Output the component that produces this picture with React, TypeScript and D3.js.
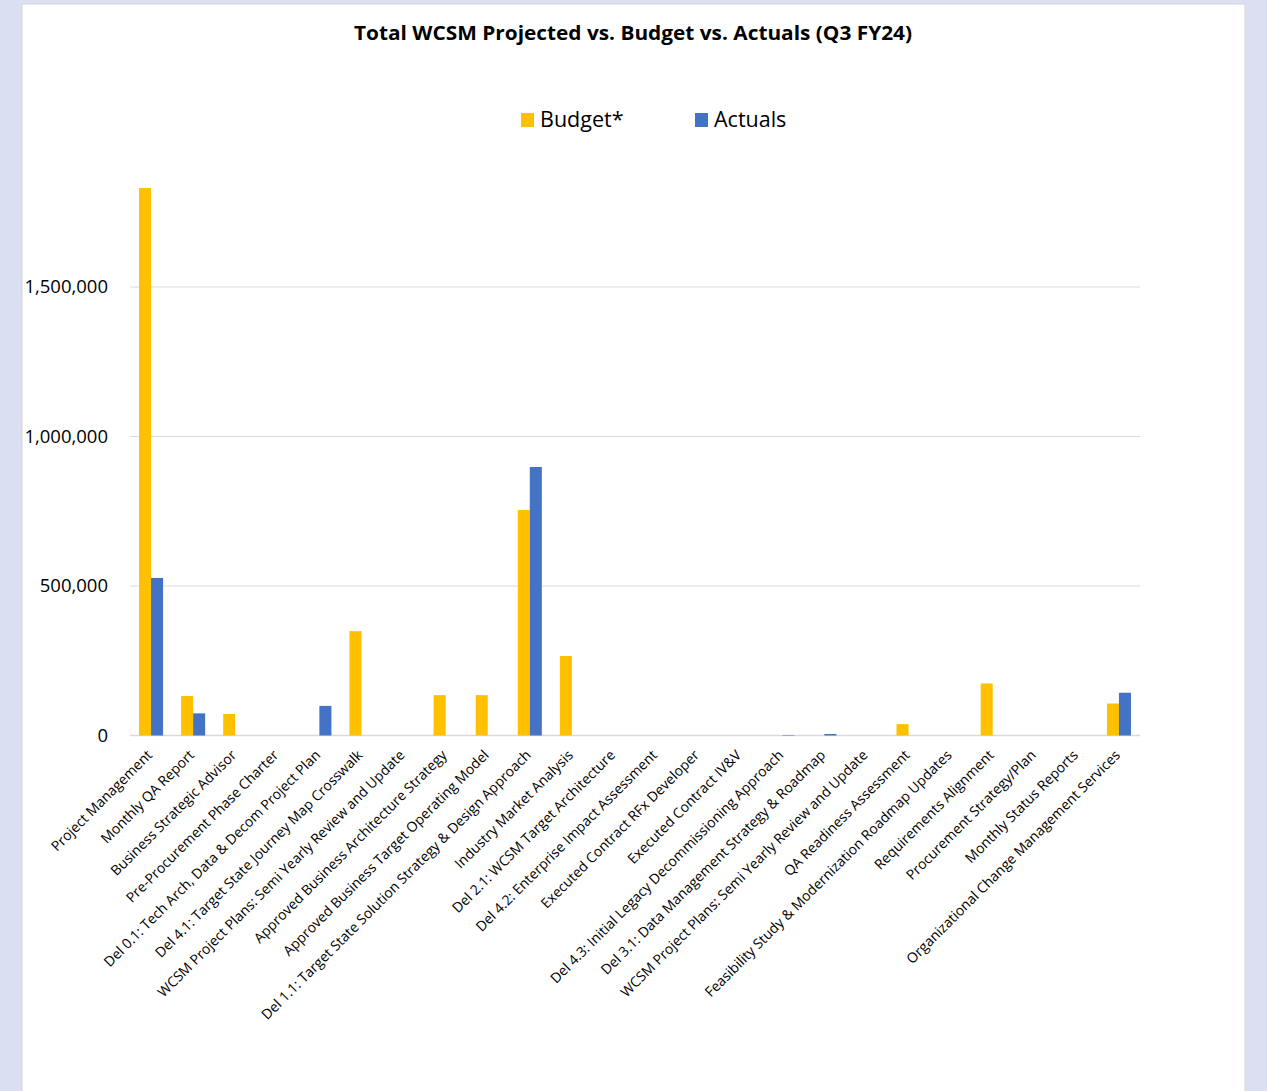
import React from "react";
import * as d3 from "d3";

const categories: string[] = [
  "Project Management",
  "Monthly QA Report",
  "Business Strategic Advisor",
  "Pre-Procurement Phase Charter",
  "Del 0.1: Tech Arch, Data & Decom Project Plan",
  "Del 4.1: Target State Journey Map Crosswalk",
  "WCSM Project Plans: Semi Yearly Review and Update",
  "Approved Business Architecture Strategy",
  "Approved Business Target Operating Model",
  "Del 1.1: Target State Solution Strategy & Design Approach",
  "Industry Market Analysis",
  "Del 2.1: WCSM Target Architecture",
  "Del 4.2: Enterprise Impact Assessment",
  "Executed Contract RFx Developer",
  "Executed Contract IV&V",
  "Del 4.3: Initial Legacy Decommissioning Approach",
  "Del 3.1: Data Management Strategy & Roadmap",
  "WCSM Project Plans: Semi Yearly Review and Update ",
  "QA Readiness Assessment",
  "Feasibility Study & Modernization Roadmap Updates",
  "Requirements Alignment",
  "Procurement Strategy/Plan",
  "Monthly Status Reports",
  "Organizational Change Management Services",
];

const budget: number[] = [
  1831000, 132000, 72000, 0, 0, 349000, 0, 135000, 135000, 754000, 266000, 0,
  0, 0, 0, 0, 0, 0, 38000, 0, 174000, 0, 0, 107000,
];

const actuals: number[] = [
  527000, 74000, 0, 0, 99000, 0, 0, 0, 0, 898000, 0, 0, 0, 0, 0, 1500, 5000,
  0, 0, 0, 0, 0, 0, 143000,
];

const seriesNames: string[] = ["Budget*", "Actuals"];
const seriesColors: string[] = ["#FFC000", "#4472C4"];
const yTicks: number[] = [0, 500000, 1000000, 1500000];

const W = 1267;
const H = 1091;
const FONT = "'Segoe UI', 'Open Sans', 'Noto Sans', sans-serif";

export default function App() {
  const x = d3
    .scaleBand<string>()
    .domain(categories)
    .range([130, 1140])
    .paddingInner(1.5 / 3.5)
    .paddingOuter(0.75 / 3.5);
  const sub = d3
    .scaleBand<string>()
    .domain(seriesNames)
    .range([0, x.bandwidth()]);
  const y = d3.scaleLinear().domain([0, 2000000]).range([735.5, 137.5]);
  const fmt = d3.format(",");
  const series = [budget, actuals];

  return (
    <svg
      width={W}
      height={H}
      style={{ position: "absolute", left: 0, top: 0, display: "block" }}
    >
      <rect x={0} y={0} width={W} height={H} fill="#DAE0F2" />
      <rect
        x={22}
        y={4}
        width={1223}
        height={H}
        fill="#FFFFFF"
        stroke="#D4D4D4"
        strokeWidth={1}
      />
      <text
        x={633}
        y={40}
        textAnchor="middle"
        fontFamily={FONT}
        fontWeight="bold"
        fontSize={20}
        textLength={558}
        lengthAdjust="spacingAndGlyphs"
        fill="#000"
      >
        Total WCSM Projected vs. Budget vs. Actuals (Q3 FY24)
      </text>

      {/* legend */}
      {seriesNames.map((s, i) => {
        const lx = [521, 695][i];
        return (
          <g key={s}>
            <rect x={lx} y={113} width={13} height={14} fill={seriesColors[i]} />
            <text
              x={lx + 19}
              y={127}
              fontFamily={FONT}
              fontSize={21.5}
              fill="#000"
            >
              {s}
            </text>
          </g>
        );
      })}

      {/* gridlines */}
      {yTicks.map((t) => (
        <g key={t}>
          <line
            x1={130}
            x2={1140}
            y1={y(t)}
            y2={y(t)}
            stroke="#D9D9D9"
            strokeWidth={t === 0 ? 1.5 : 1}
          />
          <text
            x={108}
            y={y(t)}
            dy="0.35em"
            textAnchor="end"
            fontFamily={FONT}
            fontSize={18.5}
            fill="#000"
          >
            {fmt(t)}
          </text>
        </g>
      ))}

      {/* bars */}
      {series.map((vals, si) =>
        categories.map((c, ci) => {
          const v = vals[ci];
          if (!v) return null;
          const x0 = (x(c) as number) + (sub(seriesNames[si]) as number);
          return (
            <rect
              key={si + "-" + ci}
              x={x0}
              y={y(v)}
              width={sub.bandwidth()}
              height={y(0) - y(v)}
              fill={seriesColors[si]}
            />
          );
        })
      )}

      {/* category labels */}
      {categories.map((c) => {
        const cx = (x(c) as number) + x.bandwidth() / 2;
        return (
          <text
            key={c}
            transform={`translate(${cx + 2},${756}) rotate(-45)`}
            textAnchor="end"
            fontFamily={FONT}
            fontSize={14}
            fill="#000"
          >
            {c.trim()}
          </text>
        );
      })}
    </svg>
  );
}
